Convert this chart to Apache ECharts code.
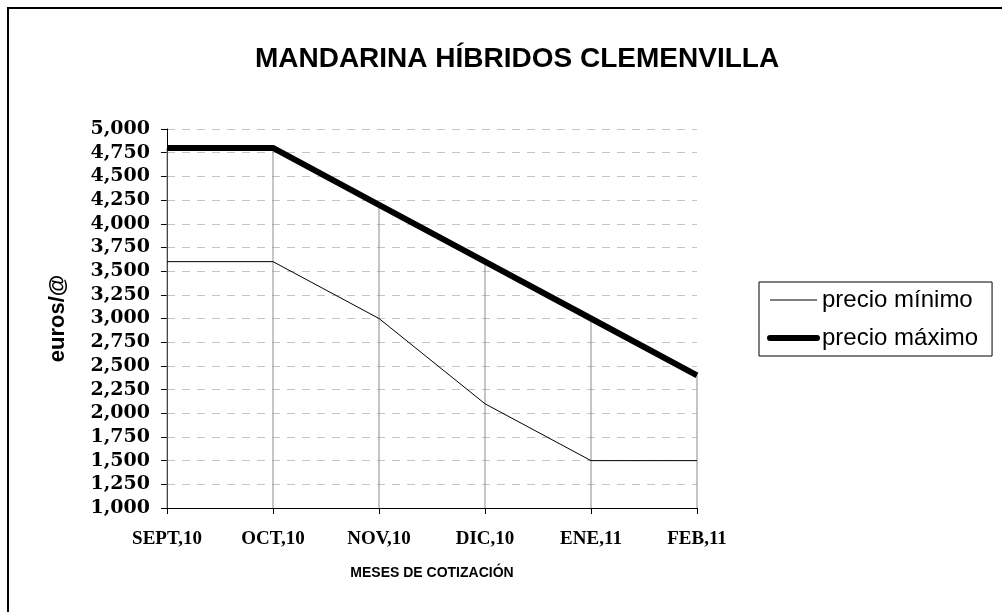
<!DOCTYPE html>
<html>
<head>
<meta charset="utf-8">
<title>Mandarina híbridos Clemenvilla</title>
<script src="https://cdn.jsdelivr.net/npm/echarts@6/dist/echarts.min.js"></script>
<style>
  html, body { margin: 0; padding: 0; background: #fff; }
  #chart { width: 1002px; height: 612px; }
</style>
</head>
<body>
<div id="chart"></div>
<script>
// meses de cotizacion
var meses = ['SEPT,10', 'OCT,10', 'NOV,10', 'DIC,10', 'ENE,11', 'FEB,11']
// euros/@
var precioMinimo = [3.6, 3.6, 3.0, 2.1, 1.5, 1.5]
var precioMaximo = [4.8, 4.8, 4.2, 3.6, 3.0, 2.4]

var chart = echarts.init(document.getElementById('chart'))

var option = {
  backgroundColor: '#fff',
  animation: false,
  title: {
    text: 'MANDARINA HÍBRIDOS CLEMENVILLA',
    left: 512,
    textAlign: 'center',
    top: 40,
    textStyle: {
      fontFamily: 'Liberation Sans',
      fontWeight: 'bold',
      fontSize: 28,
      color: '#000'
    }
  },
  // borde del area del grafico (solo se ve arriba y a la izquierda)
  graphic: [{
    type: 'rect',
    silent: true,
    shape: { x: 8, y: 8, width: 1200, height: 800 },
    style: { fill: 'none', stroke: '#000', lineWidth: 2 }
  }],
  legend: {
    orient: 'vertical',
    left: 759,
    top: 282,
    padding: [6, 14, 6, 8],
    itemWidth: 47,
    itemHeight: 24,
    itemGap: 14,
    borderColor: '#000',
    borderWidth: 1,
    selectedMode: false,
    textStyle: {
      fontFamily: 'Liberation Sans',
      fontSize: 24,
      color: '#000'
    },
    data: [
      { name: 'precio mínimo', itemStyle: { opacity: 0 }, lineStyle: { color: '#000', width: 1 } },
      { name: 'precio máximo', itemStyle: { opacity: 0 }, lineStyle: { color: '#000', width: 6, cap: 'round' } }
    ]
  },
  grid: {
    left: 167,
    right: 305,
    top: 129,
    bottom: 104
  },
  xAxis: {
    type: 'category',
    data: meses,
    boundaryGap: false,
    name: 'MESES DE COTIZACIÓN',
    nameLocation: 'middle',
    nameGap: 58,
    nameTextStyle: {
      fontFamily: 'Liberation Sans',
      fontWeight: 'bold',
      fontSize: 14,
      color: '#000'
    },
    axisLine: { lineStyle: { color: '#000', width: 1 } },
    axisTick: { show: true, length: 6, lineStyle: { color: '#000' } },
    axisLabel: {
      margin: 22,
      fontFamily: 'Liberation Serif',
      fontWeight: 'bold',
      fontSize: 19,
      color: '#000'
    },
    splitLine: { show: false }
  },
  yAxis: {
    type: 'value',
    min: 1,
    max: 5,
    interval: 0.25,
    name: 'euros/@',
    nameLocation: 'middle',
    nameGap: 98,
    nameMoveOverlap: false,
    nameTextStyle: {
      fontFamily: 'Liberation Sans',
      fontWeight: 'bold',
      fontSize: 22,
      color: '#000'
    },
    axisLine: { show: true, lineStyle: { color: '#000', width: 1 } },
    axisTick: { show: true, length: 6, lineStyle: { color: '#000' } },
    axisLabel: {
      margin: 17,
      fontFamily: 'DejaVu Serif',
      fontWeight: 'bold',
      fontSize: 19,
      color: '#000',
      formatter: function (v) {
        return v.toFixed(3).replace('.', ',')
      }
    },
    splitLine: {
      show: true,
      lineStyle: { color: '#c4c4c4', type: [8, 7], width: 1 }
    }
  },
  series: [
    {
      // lineas de caida desde el precio maximo
      name: 'caida',
      type: 'bar',
      data: precioMaximo,
      barWidth: 1,
      silent: true,
      z: 1,
      itemStyle: { color: '#8c8c8c' }
    },
    {
      name: 'precio mínimo',
      type: 'line',
      data: precioMinimo,
      symbol: 'none',
      z: 3,
      lineStyle: { color: '#000', width: 1 },
      itemStyle: { color: '#000' }
    },
    {
      name: 'precio máximo',
      type: 'line',
      data: precioMaximo,
      symbol: 'none',
      z: 4,
      lineStyle: { color: '#000', width: 6 },
      itemStyle: { color: '#000' }
    }
  ]
}

chart.setOption(option)
</script>
</body>
</html>
